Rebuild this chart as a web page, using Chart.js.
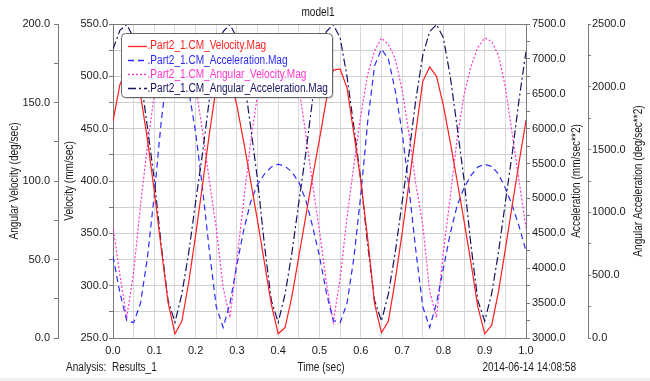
<!DOCTYPE html>
<html>
<head>
<meta charset="utf-8">
<script src="https://cdn.jsdelivr.net/npm/chart.js@4/dist/chart.umd.min.js"></script>
<style>
html,body{margin:0;padding:0;background:#fff;}
canvas{display:block;}
</style>
</head>
<body>
<canvas id="c" width="650" height="381"></canvas>
<script>
const FONT = "'Liberation Sans',Arial,sans-serif";

const chartTitle = 'model1';
const xTitle = 'Time (sec)';
const analysisText = 'Analysis:  Results_1';
const stampText = '2014-06-14 14:08:58';

const time = [0, 0.0167, 0.0333, 0.05, 0.0667, 0.0833, 0.1, 0.1167, 0.1333, 0.15,
  0.1667, 0.1833, 0.2, 0.2167, 0.2333, 0.25, 0.2667, 0.2833, 0.3, 0.3167,
  0.3333, 0.35, 0.3667, 0.3833, 0.4, 0.4167, 0.4333, 0.45, 0.4667, 0.4833,
  0.5, 0.5167, 0.5333, 0.55, 0.5667, 0.5833, 0.6, 0.6167, 0.6333, 0.65,
  0.6667, 0.6833, 0.7, 0.7167, 0.7333, 0.75, 0.7667, 0.7833, 0.8, 0.8167,
  0.8333, 0.85, 0.8667, 0.8833, 0.9, 0.9167, 0.9333, 0.95, 0.9667, 0.9833, 1.0];

const velocity = [457, 492, 508, 503, 482, 440, 390, 336, 284, 254,
  266, 303, 348, 396, 445, 490, 507, 500, 472, 437,
  400, 362, 322, 282, 254, 260, 290, 328, 366, 404,
  440, 478, 506, 507, 489, 445, 400, 345, 283, 255,
  266, 305, 350, 398, 447, 495, 509, 500, 472, 437,
  400, 362, 322, 280, 254, 262, 294, 335, 377, 418, 458];

const acceleration = [4170, 3650, 3250, 3220, 3500, 4150, 5050, 6100, 6900, 7140,
  7000, 6550, 5950, 5150, 4250, 3450, 3150, 3500, 4050, 4550,
  4950, 5200, 5350, 5450, 5490, 5460, 5380, 5230, 4980, 4600,
  4170, 3650, 3250, 3220, 3500, 4150, 5050, 6100, 6900, 7140,
  7000, 6550, 5950, 5150, 4250, 3450, 3150, 3500, 4000, 4500,
  4900, 5150, 5330, 5450, 5490, 5460, 5350, 5150, 4900, 4600, 4250];

const angularVelocity = [71, 40, 13, 42, 85, 122, 155, 176, 187, 191,
  188, 180, 160, 132, 100, 70, 32, 13, 50, 88,
  125, 155, 174, 186, 191, 188, 179, 160, 130, 98,
  68, 35, 10, 38, 77, 110, 142, 168, 183, 191,
  187, 178, 158, 130, 98, 72, 30, 13, 55, 90,
  127, 155, 173, 185, 191, 189, 180, 160, 130, 100, 70];

const angularAcceleration = [2300, 2450, 2495, 2390, 2080, 1680, 1260, 740, 300, 125,
  350, 680, 1080, 1470, 1900, 2250, 2440, 2495, 2390, 2080,
  1680, 1260, 740, 300, 125, 350, 680, 1080, 1470, 1900,
  2250, 2440, 2495, 2390, 2080, 1680, 1260, 740, 300, 135,
  350, 680, 1080, 1470, 1900, 2250, 2440, 2495, 2390, 2080,
  1680, 1260, 740, 300, 135, 350, 680, 1080, 1470, 1900, 2280];

const xTickLabels = ['0.0','0.1','0.2','0.3','0.4','0.5','0.6','0.7','0.8','0.9','1.0'];
const velTickLabels = ['250.0','300.0','350.0','400.0','450.0','500.0','550.0'];
const angVelTickLabels = ['0.0','50.0','100.0','150.0','200.0'];
const accTickLabels = ['3000.0','3500.0','4000.0','4500.0','5000.0','5500.0','6000.0','6500.0','7000.0','7500.0'];
const angAccTickLabels = ['0.0','500.0','1000.0','1500.0','2000.0','2500.0'];

const seriesNames = ['.Part2_1.CM_Velocity.Mag', '.Part2_1.CM_Acceleration.Mag',
  '.Part2_1.CM_Angular_Velocity.Mag', '.Part2_1.CM_Angular_Acceleration.Mag'];
const axisTitles = ['Angular Velocity (deg/sec)', 'Velocity (mm/sec)',
  'Acceleration (mm/sec**2)', 'Angular Acceleration (deg/sec**2)'];

const COLORS = ['#ff1f1f', '#2b2bff', '#ff33cc', '#14145e'];
const DASHES = [[], [6, 4], [2, 2], [8, 3, 2, 3]];
const TEXT = '#1a1a1a';
const AXIS = '#7a7a7a';
const SQUEEZE = 0.84;

function pts(arr) { return time.map((t, i) => ({ x: t, y: arr[i] })); }
function fmt(labels, step) {
  return v => {
    const k = v / step;
    if (Math.abs(k - Math.round(k)) > 1e-6) return '';
    const s = (Math.round(k) * step).toFixed(1);
    return labels.includes(s) ? s : '';
  };
}
const tickFont = { family: FONT, size: 11 };

const datasets = [
  { label: seriesNames[0], data: pts(velocity), yAxisID: 'yVel' },
  { label: seriesNames[1], data: pts(acceleration), yAxisID: 'yAcc' },
  { label: seriesNames[2], data: pts(angularVelocity), yAxisID: 'yAngVel' },
  { label: seriesNames[3], data: pts(angularAcceleration), yAxisID: 'yAngAcc' }
].map((d, i) => Object.assign(d, {
  borderColor: COLORS[i], backgroundColor: COLORS[i], borderDash: DASHES[i],
  borderWidth: 1.2, pointRadius: 0, tension: 0, fill: false
}));
datasets[0].order = 0; datasets[1].order = 2; datasets[2].order = 3; datasets[3].order = 1;

const decor = {
  id: 'decor',
  beforeDraw(chart) {
    const c = chart.ctx;
    c.save();
    c.fillStyle = '#ffffff';
    c.fillRect(0, 0, chart.width, chart.height);
    c.fillStyle = '#f0f0f0';
    c.fillRect(0, 378, chart.width, 3);
    c.restore();
  },
  afterDraw(chart) {
    const c = chart.ctx;
    const a = chart.chartArea;
    c.save();
    c.strokeStyle = AXIS; c.lineWidth = 1;
    c.beginPath(); c.moveTo(a.left, Math.round(a.top) + 0.5); c.lineTo(a.right, Math.round(a.top) + 0.5); c.stroke();

    c.font = '12px ' + FONT;
    c.textBaseline = 'middle';
    const txt = (s, x, y, align, color, rotate) => {
      c.save(); c.translate(x, y);
      if (rotate) c.rotate(-Math.PI / 2);
      c.scale(SQUEEZE, 1);
      c.textAlign = align; c.fillStyle = color || TEXT;
      c.fillText(s, 0, 0); c.restore();
    };
    txt(chartTitle, 318, 13, 'center');
    txt(analysisText, 66, 368, 'left');
    txt(xTitle, 321, 368, 'center');
    txt(stampText, 576, 368, 'right');
    txt(axisTitles[0], 15, 181, 'center', TEXT, true);
    txt(axisTitles[1], 70, 181, 'center', TEXT, true);
    txt(axisTitles[2], 577, 181, 'center', TEXT, true);
    txt(axisTitles[3], 639, 181, 'center', TEXT, true);

    const bx = 121.5, by = 33.5, bw = 211, bh = 64, r = 4;
    c.fillStyle = 'rgba(0,0,0,0.12)';
    c.beginPath(); c.roundRect(bx + 1.5, by + 1.5, bw, bh, r); c.fill();
    c.fillStyle = '#ffffff';
    c.strokeStyle = '#666666'; c.lineWidth = 1;
    c.beginPath(); c.roundRect(bx, by, bw, bh, r); c.fill(); c.stroke();
    chart.data.datasets.forEach((ds, i) => {
      const y = 45.5 + i * 14.3;
      c.strokeStyle = ds.borderColor; c.lineWidth = 1.3;
      c.setLineDash(ds.borderDash);
      c.beginPath(); c.moveTo(128, Math.round(y) + 0.5); c.lineTo(147, Math.round(y) + 0.5); c.stroke();
      c.setLineDash([]);
      txt(ds.label, 147.5, y + 0.5, 'left', ds.borderColor);
    });
    c.restore();
  }
};

new Chart(document.getElementById('c'), {
  type: 'line',
  data: { datasets },
  plugins: [decor],
  options: {
    responsive: false, animation: false, devicePixelRatio: 1,
    layout: { padding: { top: 24, bottom: 0, left: 0, right: 0 } },
    plugins: { legend: { display: false }, title: { display: false }, tooltip: { enabled: false } },
    scales: {
      x: {
        type: 'linear', position: 'bottom', min: 0, max: 1,
        ticks: { stepSize: 0.05, callback: fmt(xTickLabels, 0.1), padding: 6, color: TEXT, font: tickFont, maxRotation: 0, autoSkip: false },
        grid: { color: '#d9d9d9', drawTicks: false },
        border: { color: AXIS },
        afterFit: s => { s.height = 43; }
      },
      yVel: {
        type: 'linear', position: 'left', weight: 0, min: 250, max: 550,
        ticks: { stepSize: 25, callback: fmt(velTickLabels, 50), padding: 1, color: TEXT, font: tickFont, autoSkip: false },
        grid: { color: '#cfcfcf', drawTicks: true, tickLength: 4, tickColor: AXIS },
        border: { color: AXIS },
        afterFit: s => { s.width = 55; }
      },
      yAngVel: {
        type: 'linear', position: 'left', weight: 1, min: 0, max: 200,
        ticks: { stepSize: 25, callback: fmt(angVelTickLabels, 50), padding: 4, color: TEXT, font: tickFont, autoSkip: false },
        grid: { drawOnChartArea: false, drawTicks: true, tickLength: 4, tickColor: AXIS },
        border: { color: AXIS },
        afterFit: s => { s.width = 58; }
      },
      yAcc: {
        type: 'linear', position: 'right', weight: 0, min: 3000, max: 7500,
        ticks: { stepSize: 250, callback: fmt(accTickLabels, 500), padding: 2, color: TEXT, font: tickFont, autoSkip: false },
        grid: { drawOnChartArea: false, drawTicks: true, tickLength: 4, tickColor: AXIS },
        border: { color: AXIS },
        afterFit: s => { s.width = 62; }
      },
      yAngAcc: {
        type: 'linear', position: 'right', weight: 1, min: 0, max: 2500,
        ticks: { stepSize: 250, callback: fmt(angAccTickLabels, 500), padding: 1, color: TEXT, font: tickFont, autoSkip: false },
        grid: { drawOnChartArea: false, drawTicks: true, tickLength: 3, tickColor: AXIS },
        border: { color: AXIS },
        afterFit: s => { s.width = 62; }
      }
    }
  }
});
</script>
</body>
</html>
